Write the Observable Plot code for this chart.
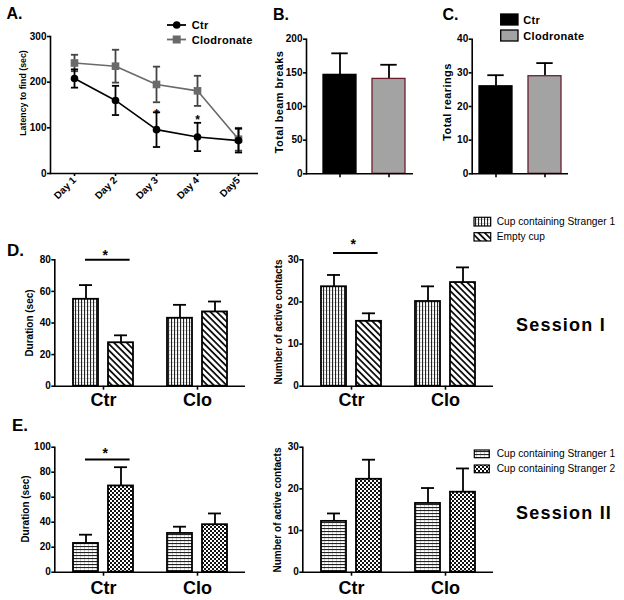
<!DOCTYPE html>
<html><head><meta charset="utf-8">
<script src="https://cdn.jsdelivr.net/npm/d3@7"></script>
<script src="https://cdn.jsdelivr.net/npm/@observablehq/plot@0.6"></script>
<style>
html,body{margin:0;padding:0;background:#fff;}
#root{position:relative;width:624px;height:600px;overflow:hidden;font-family:"Liberation Sans",Arial,sans-serif;color:#000;background:#fff;}
.abs{position:absolute;white-space:nowrap;line-height:1;}
.rot{transform:translate(-50%,-50%) rotate(-90deg);font-weight:bold;font-size:10px;}
.lft{transform:translate(0,-50%);}
[aria-label^="y-axis"] line,[aria-label^="y-axis"] path,[aria-label^="x-axis"] line,[aria-label^="x-axis"] path{stroke-width:1.6px;}
</style>
</head><body><div id="root"></div>
<script>
// ---------- DATA ----------
const days = ["Day 1", "Day 2", "Day 3", "Day 4", "Day5"];
const latencyCtr = [208, 160, 96, 80, 72];
const latencyCtrSem = [20, 32, 38, 31, 26];
const latencyClo = [242, 235, 195, 181, 75];
const latencyCloSem = [18, 36, 39, 33, 25];
const latencyTicks = [0, 100, 200, 300];
const latencyStarDays = ["Day 3", "Day 4"];
const latencyStarY = [130, 117];

const openFieldGroups = ["Ctr", "Clodronate"];
const beamBreaks = [147, 141];
const beamBreaksSem = [32, 21];
const beamTicks = [0, 50, 100, 150, 200];
const rearings = [26, 29];
const rearingsSem = [3.3, 3.9];
const rearTicks = [0, 10, 20, 30, 40];

const socialGroups = ["Ctr", "Clo"];
// Session I
const s1DurStranger = [55, 43];
const s1DurStrangerSem = [9, 8.5];
const s1DurEmpty = [27.5, 47];
const s1DurEmptySem = [4.7, 6.6];
const s1DurTicks = [0, 20, 40, 60, 80];
const s1ConStranger = [23.6, 20.1];
const s1ConStrangerSem = [2.8, 3.6];
const s1ConEmpty = [15.4, 24.6];
const s1ConEmptySem = [1.9, 3.6];
const contactTicks = [0, 10, 20, 30];
// Session II
const s2DurStranger1 = [23, 31];
const s2DurStranger1Sem = [7, 5.4];
const s2DurStranger2 = [69, 38];
const s2DurStranger2Sem = [15, 9];
const s2DurTicks = [0, 20, 40, 60, 80, 100];
const s2ConStranger1 = [12.2, 16.5];
const s2ConStranger1Sem = [1.9, 3.7];
const s2ConStranger2 = [22.3, 19.2];
const s2ConStranger2Sem = [4.7, 5.7];
// significance annotations (group, line value, star value)
const sigDurS1 = {g: "Ctr", y: 80, star: 83};
const sigConS1 = {g: "Ctr", y: 31.6, star: 33.7};
const sigDurS2 = {g: "Ctr", y: 90.2, star: 95};

// ---------- SETUP ----------
const FONT = "'Liberation Sans', Arial, sans-serif";
const root = document.getElementById("root");
root.insertAdjacentHTML("beforeend", `<svg width="0" height="0" style="position:absolute"><defs>
<pattern id="pV" width="3" height="4" patternUnits="userSpaceOnUse"><rect width="3" height="4" fill="#fff"/><rect width="3" height="1" fill="#cfcfcf"/><rect width="1.1" height="4" fill="#222"/></pattern>
<pattern id="pH" width="4" height="3" patternUnits="userSpaceOnUse"><rect width="4" height="3" fill="#fff"/><rect width="1" height="3" fill="#cfcfcf"/><rect width="4" height="1.1" fill="#222"/></pattern>
<pattern id="pD" width="4.5" height="4.5" patternUnits="userSpaceOnUse" patternTransform="rotate(-45)"><rect width="4.5" height="4.5" fill="#fff"/><rect width="1.8" height="4.5" fill="#111"/></pattern>
<pattern id="pC" width="4" height="4" patternUnits="userSpaceOnUse"><rect width="4" height="4" fill="#fff"/><rect width="2" height="2" fill="#111"/><rect x="2" y="2" width="2" height="2" fill="#111"/></pattern>
</defs></svg>`);

function mount(svg, left, top, width) {
  const d = document.createElement("div");
  d.style.cssText = `position:absolute;left:${left}px;top:${top}px;width:${width}px;`;
  d.appendChild(svg);
  root.appendChild(d);
}
function label(text, x, y, opts = {}) {
  const d = document.createElement("div");
  d.className = "abs " + (opts.cls || "lft");
  d.textContent = text;
  d.style.left = x + "px";
  d.style.top = y + "px";
  if (opts.size) d.style.fontSize = opts.size + "px";
  if (opts.weight) d.style.fontWeight = opts.weight;
  if (opts.ls) d.style.letterSpacing = opts.ls + "px";
  root.appendChild(d);
}
const baseStyle = {background: "transparent", fontFamily: FONT, fontSize: "10px", fontWeight: "bold", overflow: "visible", color: "#000"};

// horizontal cap symbol for error bars on a point scale
const capSymbol = {draw(context, size) { const r = Math.sqrt(size / Math.PI); context.moveTo(-r, 0); context.lineTo(r, 0); }};

// ---------- PANEL A ----------
const ctrRows = days.map((d, i) => ({day: d, mean: latencyCtr[i], lo: latencyCtr[i] - latencyCtrSem[i], hi: latencyCtr[i] + latencyCtrSem[i]}));
const cloRows = days.map((d, i) => ({day: d, mean: latencyClo[i], lo: latencyClo[i] - latencyCloSem[i], hi: latencyClo[i] + latencyCloSem[i]}));
const starRows = latencyStarDays.map((d, i) => ({day: d, y: latencyStarY[i]}));
const capA = {symbol: capSymbol, r: 3.6, fill: "none", strokeWidth: 1.8};
mount(Plot.plot({
  width: 262, height: 215, marginLeft: 50, marginRight: 4, marginTop: 36, marginBottom: 42,
  style: baseStyle,
  x: {type: "point", domain: days, range: [73, 238], padding: 0, tickRotate: -45, tickSize: 3, tickPadding: 2, label: null},
  y: {domain: [0, 300], ticks: latencyTicks, tickSize: 3, tickPadding: 1, label: null},
  marks: [
    Plot.ruleY([0], {strokeWidth: 1.6}),
    Plot.frame({anchor: "left", strokeWidth: 1.6}),
    Plot.ruleX(cloRows, {x: "day", y1: "lo", y2: "hi", stroke: "#444", strokeWidth: 1.8}),
    Plot.dot(cloRows, {x: "day", y: "lo", stroke: "#444", ...capA}),
    Plot.dot(cloRows, {x: "day", y: "hi", stroke: "#444", ...capA}),
    Plot.line(cloRows, {x: "day", y: "mean", stroke: "#6a6a6a", strokeWidth: 1.6}),
    Plot.dot(cloRows, {x: "day", y: "mean", symbol: "square", r: 4.3, fill: "#6a6a6a"}),
    Plot.ruleX(ctrRows, {x: "day", y1: "lo", y2: "hi", strokeWidth: 1.8}),
    Plot.dot(ctrRows, {x: "day", y: "lo", stroke: "#000", ...capA}),
    Plot.dot(ctrRows, {x: "day", y: "hi", stroke: "#000", ...capA}),
    Plot.line(ctrRows, {x: "day", y: "mean", stroke: "#000", strokeWidth: 1.6}),
    Plot.dot(ctrRows, {x: "day", y: "mean", r: 3.8, fill: "#000"}),
    Plot.text(starRows, {x: "day", y: "y", text: () => "*", fontSize: 12, fontWeight: "bold"})
  ]
}), 0, 0, 262);

// ---------- PANELS B & C ----------
function openFieldPanel({values, sems, ticks, yMax, left, width, marginLeft, range}) {
  const rows = openFieldGroups.map((g, i) => ({g, v: values[i], e: values[i] + sems[i]}));
  return mount(Plot.plot({
    width, height: 215, marginLeft, marginRight: 4, marginTop: 38.7, marginBottom: 41.7,
    style: baseStyle,
    x: {type: "band", domain: openFieldGroups, range, paddingInner: 0.332, paddingOuter: 0, tickSize: 4, tickFormat: () => "", label: null},
    y: {domain: [0, yMax], ticks, tickSize: 3, tickPadding: 1, label: null},
    marks: [
      Plot.ruleX(rows, {x: "g", y1: "v", y2: "e", strokeWidth: 1.8}),
      Plot.tickY(rows, {x: "g", y: "e", insetLeft: 8.3, insetRight: 8.3, strokeWidth: 1.8}),
      Plot.barY(rows, {x: "g", y: "v", fill: (d) => d.g === "Ctr" ? "#000" : "#a3a3a3", stroke: (d) => d.g === "Ctr" ? "#000" : "#6a1f30", strokeWidth: 1.3}),
      Plot.ruleY([0], {strokeWidth: 1.6}),
      Plot.frame({anchor: "left", strokeWidth: 1.6})
    ]
  }), left, 0, width);
}
openFieldPanel({values: beamBreaks, sems: beamBreaksSem, ticks: beamTicks, yMax: 200, left: 230, width: 187, marginLeft: 76, range: [92.3, 174.7]});
openFieldPanel({values: rearings, sems: rearingsSem, ticks: rearTicks, yMax: 40, left: 420, width: 152, marginLeft: 51.7, range: [59, 141.3]});

// ---------- PANELS D & E ----------
function socialPanel({a, aSem, b, bSem, patA, patB, yMax, ticks, sig, left, top, height, marginTop, marginBottom, labelDy}) {
  const ra = socialGroups.map((g, i) => ({g, v: a[i], e: a[i] + aSem[i]}));
  const rb = socialGroups.map((g, i) => ({g, v: b[i], e: b[i] + bSem[i]}));
  const marks = [
    Plot.ruleX(ra, {x: "g", y1: "v", y2: "e", dx: -17.5, strokeWidth: 1.8}),
    Plot.tickY(ra, {x: "g", y: "e", insetLeft: 6, insetRight: 41, strokeWidth: 1.8}),
    Plot.barY(ra, {x: "g", y: "v", insetLeft: 0, insetRight: 35, fill: `url(#${patA})`, stroke: "#000", strokeWidth: 1.8}),
    Plot.ruleX(rb, {x: "g", y1: "v", y2: "e", dx: 17.5, strokeWidth: 1.8}),
    Plot.tickY(rb, {x: "g", y: "e", insetLeft: 41, insetRight: 6, strokeWidth: 1.8}),
    Plot.barY(rb, {x: "g", y: "v", insetLeft: 35, insetRight: 0, fill: `url(#${patB})`, stroke: "#000", strokeWidth: 1.8}),
    Plot.ruleY([0], {strokeWidth: 1.6}),
    Plot.frame({anchor: "left", strokeWidth: 1.6}),
    Plot.text(socialGroups, {x: (d) => d, text: (d) => d, frameAnchor: "bottom", lineAnchor: "middle", dy: labelDy, fontSize: 18, fontWeight: "bold"})
  ];
  if (sig) {
    marks.push(Plot.tickY([sig], {x: "g", y: "y", insetLeft: 12, insetRight: 3.4, strokeWidth: 2}));
    marks.push(Plot.text([sig], {x: "g", y: "star", text: () => "*", dx: 1.6, fontSize: 14, fontWeight: "bold"}));
  }
  mount(Plot.plot({
    width: 250, height, marginLeft: 54.3, marginRight: 5, marginTop, marginBottom,
    style: baseStyle,
    x: {type: "band", domain: socialGroups, range: [72.3, 227], paddingInner: 0.365, paddingOuter: 0, tickSize: 4, tickFormat: () => "", label: null},
    y: {domain: [0, yMax], ticks, tickSize: 3, tickPadding: 1, label: null},
    marks
  }), left, top, 250);
}
const rowD = {top: 230, height: 200, marginTop: 29.3, marginBottom: 44.3, labelDy: 14.5};
const rowE = {top: 420, height: 180, marginTop: 26.7, marginBottom: 28.3, labelDy: 15.8};
socialPanel({...rowD, left: 0, a: s1DurStranger, aSem: s1DurStrangerSem, b: s1DurEmpty, bSem: s1DurEmptySem, patA: "pV", patB: "pD", yMax: 80, ticks: s1DurTicks, sig: sigDurS1});
socialPanel({...rowD, left: 248.4, a: s1ConStranger, aSem: s1ConStrangerSem, b: s1ConEmpty, bSem: s1ConEmptySem, patA: "pV", patB: "pD", yMax: 30, ticks: contactTicks, sig: sigConS1});
socialPanel({...rowE, left: 0, a: s2DurStranger1, aSem: s2DurStranger1Sem, b: s2DurStranger2, bSem: s2DurStranger2Sem, patA: "pH", patB: "pC", yMax: 100, ticks: s2DurTicks, sig: sigDurS2});
socialPanel({...rowE, left: 248.4, a: s2ConStranger1, aSem: s2ConStranger1Sem, b: s2ConStranger2, bSem: s2ConStranger2Sem, patA: "pH", patB: "pC", yMax: 30, ticks: contactTicks, sig: null});

// ---------- TEXT: titles, axis labels, legends ----------
label("A.", 6.5, 13.8, {size: 16, weight: "bold"});
label("B.", 273, 14.5, {size: 16, weight: "bold"});
label("C.", 442.5, 14.5, {size: 16, weight: "bold"});
label("D.", 7, 249.5, {size: 17, weight: "bold"});
label("E.", 12, 424.5, {size: 17, weight: "bold"});

label("Latency to find (sec)", 23, 92.5, {cls: "rot", size: 8.8});
label("Total beam breaks", 278.8, 102.3, {cls: "rot", size: 11, ls: 0.4});
label("Total rearings", 446.5, 102.3, {cls: "rot", size: 11, ls: 0.4});
label("Duration (sec)", 30.2, 322.8, {cls: "rot"});
label("Number of active contacts", 278.8, 321.5, {cls: "rot"});
label("Duration (sec)", 26, 508.7, {cls: "rot"});
label("Number of active contacts", 278.3, 509.7, {cls: "rot"});

label("Session I", 516, 325, {size: 18, weight: "bold", ls: 1.2});
label("Session II", 516, 513.3, {size: 18, weight: "bold", ls: 1.2});

// legend A
root.insertAdjacentHTML("beforeend", `<svg class="abs" style="left:160px;top:15px" width="30" height="35">
<line x1="7" y1="10" x2="26" y2="10" stroke="#000" stroke-width="1.8"/><circle cx="16.7" cy="10" r="3.8" fill="#000"/>
<line x1="7" y1="24.5" x2="26" y2="24.5" stroke="#6a6a6a" stroke-width="1.8"/><rect x="12.7" y="20.5" width="8" height="8" fill="#6a6a6a"/></svg>`);
label("Ctr", 191.7, 25, {size: 11, weight: "bold", ls: 0.3});
label("Clodronate", 191.7, 39.5, {size: 11, weight: "bold", ls: 0.3});
// legend C
root.insertAdjacentHTML("beforeend", `<svg class="abs" style="left:498px;top:12px" width="24" height="32">
<rect x="2.7" y="2" width="17.3" height="11" fill="#000" stroke="#000" stroke-width="1.3"/>
<rect x="2.7" y="18" width="17.3" height="11" fill="#a3a3a3" stroke="#000" stroke-width="1.3"/></svg>`);
label("Ctr", 523.3, 19.5, {size: 11, weight: "bold", ls: 0.3});
label("Clodronate", 523.3, 35.5, {size: 11, weight: "bold", ls: 0.3});
// legend D
root.insertAdjacentHTML("beforeend", `<svg class="abs" style="left:472px;top:215px" width="22" height="30">
<rect x="2" y="2.3" width="16.7" height="8.7" fill="url(#pV)" stroke="#000" stroke-width="1.2"/>
<rect x="2" y="17.7" width="16.7" height="8.3" fill="url(#pD)" stroke="#000" stroke-width="1.2"/></svg>`);
label("Cup containing Stranger 1", 496.7, 222, {size: 10.2});
label("Empty cup", 496.7, 237, {size: 10.2});
// legend E
root.insertAdjacentHTML("beforeend", `<svg class="abs" style="left:472px;top:448px" width="22" height="28">
<rect x="2.3" y="2" width="15" height="7.7" fill="url(#pH)" stroke="#000" stroke-width="1.2"/>
<rect x="2.3" y="17" width="15" height="7.7" fill="url(#pC)" stroke="#000" stroke-width="1.2"/></svg>`);
label("Cup containing Stranger 1", 496.7, 454, {size: 10.2});
label("Cup containing Stranger 2", 496.7, 469, {size: 10.2});
</script>
</body></html>
